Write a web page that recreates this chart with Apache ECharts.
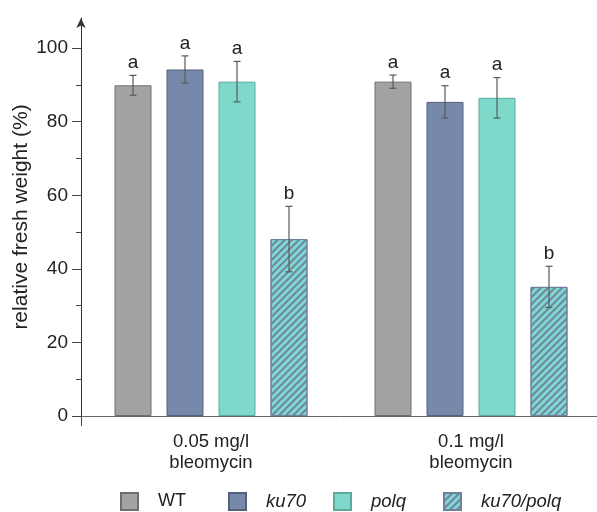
<!DOCTYPE html>
<html><head><meta charset="utf-8">
<script src="https://cdn.jsdelivr.net/npm/echarts@6/dist/echarts.min.js"></script>
<style>html,body{margin:0;padding:0;background:#fff}#c{width:597px;height:512px}</style>
</head><body><div id="c"></div>
<script>
const categories = ['0.05 mg/l\nbleomycin', '0.1 mg/l\nbleomycin'];
const genotypes = ['WT', 'ku70', 'polq', 'ku70/polq'];
const meanWT = [89.9, 90.9];
const meanKu70 = [94.2, 85.4];
const meanPolq = [90.9, 86.5];
const meanDouble = [48.1, 35.1];
const errWT = [2.7, 1.8];
const errKu70 = [3.7, 4.4];
const errPolq = [5.5, 5.5];
const errDouble = [8.9, 5.6];
const lettersWT = ['a', 'a'];
const lettersKu70 = ['a', 'a'];
const lettersPolq = ['a', 'a'];
const lettersDouble = ['b', 'b'];
const yTickLabels = [0, 20, 40, 60, 80, 100];
const yMinorTicks = [10, 30, 50, 70, 90];

const means = [meanWT, meanKu70, meanPolq, meanDouble];
const errs = [errWT, errKu70, errPolq, errDouble];
const letters = [lettersWT, lettersKu70, lettersPolq, lettersDouble];

const FONT = '"Liberation Sans", Arial, sans-serif';
const fills = ['#a3a3a3', '#7689ab', '#7fd9cb', '#7fd9cb'];
const borders = ['#6e6e6e', '#556079', '#5ea99d', '#6f7f9c'];
const BAR_W = 37, BAR_GAP = 15;
const legendLefts = [120, 228, 333, 443];

const errData = [];
for (let s = 0; s < 4; s++) {
  for (let c = 0; c < categories.length; c++) {
    errData.push([c, s, means[s][c], errs[s][c], letters[s][c]]);
  }
}

const barSeries = genotypes.map((g, i) => {
  const st = { color: fills[i], borderColor: borders[i], borderWidth: 1 };
  if (i === 3) {
    st.decal = {
      symbol: 'rect', symbolSize: 1,
      dashArrayX: [1, 0], dashArrayY: [1.6, 2.2],
      rotation: -Math.PI / 4,
      color: 'rgba(112,125,165,0.95)'
    };
  }
  return {
    name: g, type: 'bar', data: means[i], barWidth: BAR_W,
    barGap: (BAR_GAP / BAR_W * 100) + '%', itemStyle: st,
    emphasis: { disabled: true }
  };
});

const errSeries = {
  name: 'err', type: 'custom', data: errData,
  encode: { x: 0, y: 2 }, z: 10, silent: true,
  renderItem: function (params, api) {
    const c = api.value(0), s = api.value(1), m = api.value(2), e = api.value(3);
    const letter = errData[params.dataIndex][4];
    const off = (s - 1.5) * (BAR_W + BAR_GAP);
    const top = api.coord([c, m + e]);
    const bot = api.coord([c, m - e]);
    const x = top[0] + off;
    const cap = 3.5;
    const ls = { stroke: '#5a5a5a', lineWidth: 1.2 };
    return {
      type: 'group', children: [
        { type: 'line', shape: { x1: x, y1: top[1], x2: x, y2: bot[1] }, style: ls },
        { type: 'line', shape: { x1: x - cap, y1: top[1], x2: x + cap, y2: top[1] }, style: ls },
        { type: 'line', shape: { x1: x - cap, y1: bot[1], x2: x + cap, y2: bot[1] }, style: ls },
        { type: 'text', style: { text: letter, x: x, y: top[1] - 3, align: 'center', verticalAlign: 'bottom',
          fill: '#222', font: '19px ' + FONT } }
      ]
    };
  }
};

const legends = genotypes.map((g, i) => ({
  data: [g], left: legendLefts[i], top: 492, icon: 'rect', padding: 0,
  itemWidth: 17, itemHeight: 17, selectedMode: false,
  formatter: function (n) { return '{g|}' + (n === 'WT' ? '{n|' + n + '}' : '{i|' + n + '}'); },
  textStyle: {
    fontSize: 18, color: '#222',
    rich: {
      g: { width: 15 },
      n: { fontSize: 18, color: '#222' },
      i: { fontSize: 18.5, fontStyle: 'italic', color: '#222' }
    }
  }
}));

const chart = echarts.init(document.getElementById('c'), null, { renderer: 'canvas' });
chart.setOption({
  animation: false,
  backgroundColor: '#fff',
  textStyle: { fontFamily: FONT },
  grid: { left: 81, width: 520, top: 18, bottom: 96, containLabel: false, outerBoundsMode: 'none' },
  xAxis: {
    type: 'category', data: categories,
    axisLine: { lineStyle: { color: '#666', width: 1 } },
    axisTick: { show: true, length: 10, interval: function (i) { return i === 1; }, lineStyle: { color: '#444' } },
    axisLabel: { margin: 15, fontSize: 18.5, lineHeight: 21, color: '#222' }
  },
  yAxis: [{
    type: 'value', min: 0, max: 108.2,
    name: 'relative fresh weight (%)', nameLocation: 'middle', nameGap: 49, nameMoveOverlap: false,
    nameTextStyle: { fontSize: 21, color: '#222' },
    splitLine: { show: false },
    axisLine: { show: true, lineStyle: { color: '#333', width: 1 }, symbol: ['none', 'arrow'], symbolSize: [7, 10] },
    axisTick: { show: true, length: 9, customValues: yTickLabels, lineStyle: { color: '#444' } },
    axisLabel: { customValues: yTickLabels, fontSize: 19, color: '#222', margin: 13 }
  }, {
    type: 'value', min: 0, max: 108.2, position: 'left',
    splitLine: { show: false },
    axisLine: { show: false },
    axisTick: { show: true, length: 5, customValues: yMinorTicks, lineStyle: { color: '#444' } },
    axisLabel: { show: false }
  }],
  legend: legends,
  series: barSeries.concat([errSeries])
});
</script></body></html>
